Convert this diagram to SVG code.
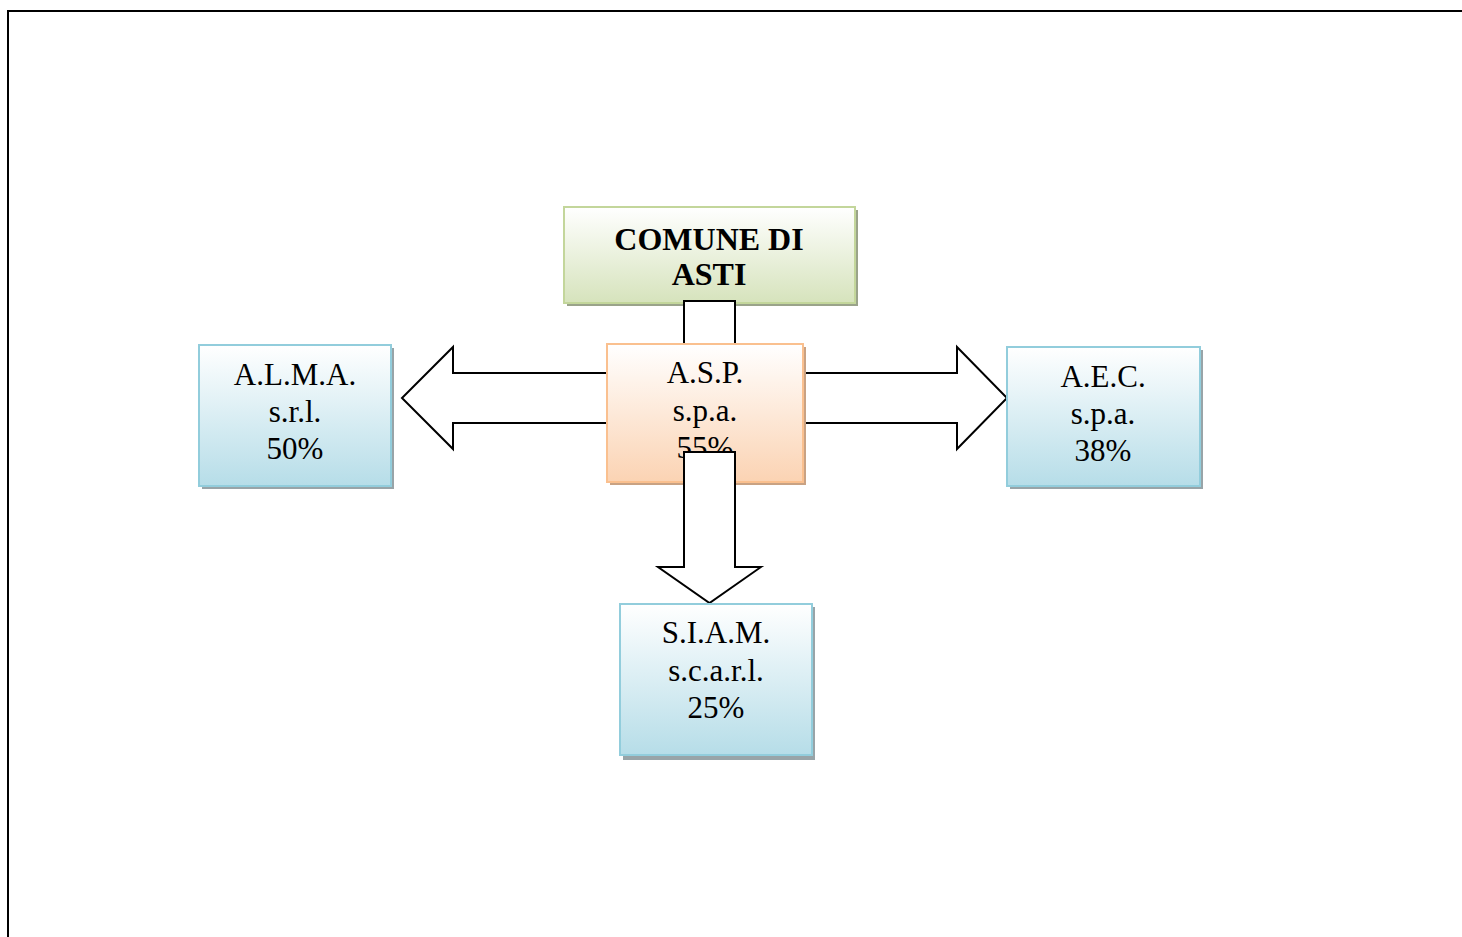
<svg xmlns="http://www.w3.org/2000/svg" width="1462" height="937" viewBox="0 0 1462 937">
<defs>
<linearGradient id="gGreen" x1="0" y1="0" x2="0" y2="1"><stop offset="0" stop-color="#ffffff"/><stop offset="1" stop-color="#d6e3bc"/></linearGradient>
<linearGradient id="gOrange" x1="0" y1="0" x2="0" y2="1"><stop offset="0" stop-color="#ffffff"/><stop offset="1" stop-color="#fbd3b3"/></linearGradient>
<linearGradient id="gBlue" x1="0" y1="0" x2="0" y2="1"><stop offset="0" stop-color="#ffffff"/><stop offset="1" stop-color="#b6dde8"/></linearGradient>
<style>
.t{font-family:"Liberation Serif","Times New Roman",serif;font-size:31px;fill:#000;text-anchor:middle}
.b{font-weight:bold;font-size:32px}
.arrow{fill:#fff;stroke:#000;stroke-width:2;stroke-linejoin:miter}
.green{fill:url(#gGreen);stroke:#c3d69b;stroke-width:2}
.orange{fill:url(#gOrange);stroke:#fac08f;stroke-width:2}
.blue{fill:url(#gBlue);stroke:#92cddc;stroke-width:2}
.shG{fill:#9aa38a}
.shO{fill:#c9a283}
.shB{fill:#98a4a8}
</style>
</defs>
<rect width="1462" height="937" fill="#fff"/>
<path d="M8,937 V11 H1462" fill="none" stroke="#000" stroke-width="2"/>

<g id="comune">
<rect class="shG" x="567" y="210" width="291" height="96"/>
<rect class="green" x="564" y="207" width="291" height="96"/>
<text class="t b" x="709" y="250">COMUNE DI</text>
<text class="t b" x="709" y="285">ASTI</text>
</g>

<g id="connectors-back">
<rect class="arrow" x="684" y="301" width="51" height="60"/>
<path class="arrow" d="M620,373 H453 V347 L402,398 L453,449 V423 H620 Z"/>
<path class="arrow" d="M790,373 H957 V347 L1007,398 L957,449 V423 H790 Z"/>
</g>

<g id="asp">
<rect class="shO" x="610" y="347" width="196" height="138"/>
<rect class="orange" x="607" y="344" width="196" height="138"/>
<text class="t" x="705" y="383">A.S.P.</text>
<text class="t" x="705" y="421">s.p.a.</text>
<text class="t" x="705" y="458">55%</text>
</g>

<g id="connectors">
<path class="arrow" d="M684,452 H735 V567 H761 L709.5,603 L658,567 H684 Z"/>
</g>

<g id="alma">
<rect class="shB" x="202" y="348" width="192" height="141"/>
<rect class="blue" x="199" y="345" width="192" height="141"/>
<text class="t" x="295" y="385">A.L.M.A.</text>
<text class="t" x="295" y="422">s.r.l.</text>
<text class="t" x="295" y="459">50%</text>
</g>

<g id="aec">
<rect class="shB" x="1010" y="350" width="193" height="139"/>
<rect class="blue" x="1007" y="347" width="193" height="139"/>
<text class="t" x="1103" y="387">A.E.C.</text>
<text class="t" x="1103" y="424">s.p.a.</text>
<text class="t" x="1103" y="461">38%</text>
</g>

<g id="siam">
<rect class="shB" x="623" y="607" width="192" height="153"/>
<rect class="blue" x="620" y="604" width="192" height="151"/>
<text class="t" x="716" y="643">S.I.A.M.</text>
<text class="t" x="716" y="681">s.c.a.r.l.</text>
<text class="t" x="716" y="718">25%</text>
</g>
</svg>
